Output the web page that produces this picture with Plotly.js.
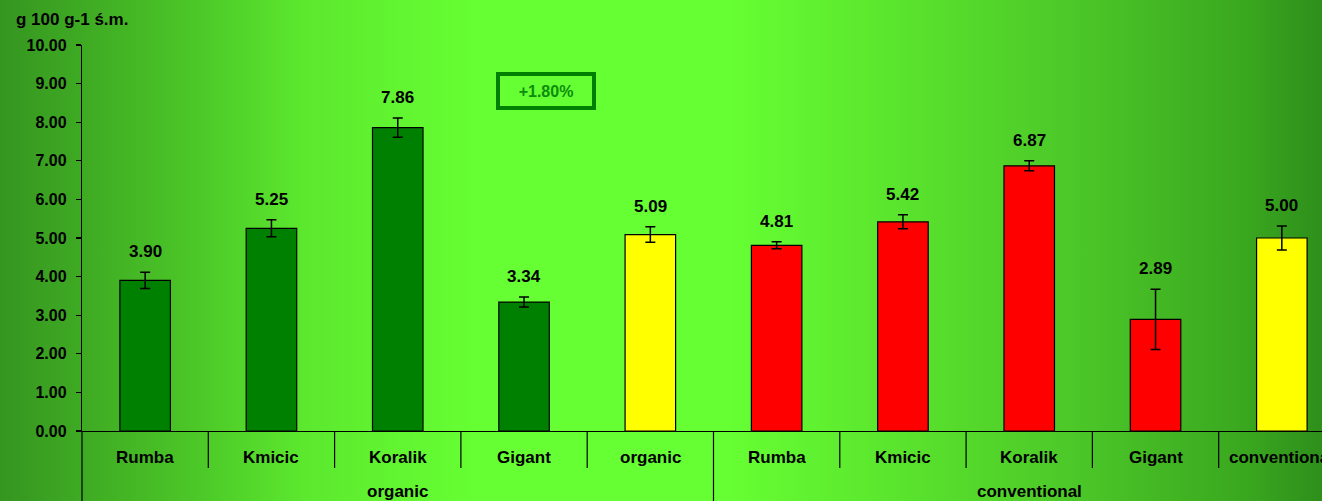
<!DOCTYPE html>
<html>
<head>
<meta charset="utf-8">
<script src="https://cdn.plot.ly/plotly-3.0.1.min.js"></script>
<style>
  html, body { margin: 0; padding: 0; }
  #chart {
    width: 1322px; height: 501px;
    background: linear-gradient(90deg, #359520 0%, #4cc828 15%, #5ce82e 23%, #66ff33 36%, #66ff33 55%, #5ae42d 68%, #4cc828 81%, #3aa81f 94%, #2e8f1b 100%);
  }
</style>
</head>
<body>
<div id="chart"></div>
<script>
// ---- data ----
var categories = ["Rumba", "Kmicic", "Koralik", "Gigant", "organic", "Rumba", "Kmicic", "Koralik", "Gigant", "conventional"];
var groups = ["organic", "conventional"];
var groupOfBar = ["organic","organic","organic","organic","organic","conventional","conventional","conventional","conventional","conventional"];
var values = [3.90, 5.25, 7.86, 3.34, 5.09, 4.81, 5.42, 6.87, 2.89, 5.00];
var errors = [0.21, 0.22, 0.25, 0.13, 0.20, 0.09, 0.18, 0.13, 0.78, 0.31];
var isMean = [false, false, false, false, true, false, false, false, false, true];
var yTitle = "g 100 g-1 ś.m.";
var diffLabel = "+1.80%";

// ---- styles ----
var FONT = "Liberation Sans, Arial, sans-serif";
var colorFor = function (i) {
  if (isMean[i]) return "#ffff00";
  return groupOfBar[i] === "organic" ? "#008000" : "#ff0000";
};
var xIdx = categories.map(function (c, i) { return i; });
var xMin = -0.5, xMax = 9.318;
var plotH = 501 - 45 - 70;
var toPaperX = function (v) { return (v - xMin) / (xMax - xMin); };
var boldFont = function (s) { return { family: FONT, size: s, color: "#000000", weight: "bold" }; };

var trace = {
  type: "bar",
  x: xIdx,
  y: values,
  width: 0.4,
  marker: { color: xIdx.map(colorFor), line: { color: "#000000", width: 1.2 } },
  error_y: { type: "data", array: errors, visible: true, color: "#000000", thickness: 1.5, width: 5 },
  hoverinfo: "skip"
};

var annotations = [];
// value labels
values.forEach(function (v, i) {
  annotations.push({
    x: i, y: v + errors[i], xref: "x", yref: "y",
    text: v.toFixed(2), showarrow: false, yanchor: "bottom", yshift: 9,
    font: boldFont(17)
  });
});
// category labels
categories.forEach(function (c, i) {
  annotations.push({
    x: i, y: -26 / plotH, xref: "x", yref: "paper",
    text: c, showarrow: false, yanchor: "middle",
    font: boldFont(17)
  });
});
// group labels
groups.forEach(function (g) {
  var idx = [];
  groupOfBar.forEach(function (gg, i) { if (gg === g) idx.push(i); });
  var center = (idx[0] + idx[idx.length - 1]) / 2;
  annotations.push({
    x: center, y: -60 / plotH, xref: "x", yref: "paper",
    text: g, showarrow: false, yanchor: "middle",
    font: boldFont(17)
  });
});
// y title
annotations.push({
  x: -68 / 1240, y: 1 + 25 / plotH, xref: "paper", yref: "paper",
  xanchor: "left", yanchor: "middle", text: yTitle, showarrow: false,
  font: boldFont(17)
});
// difference box
annotations.push({
  x: 3.17, y: 8.81, xref: "x", yref: "y", text: diffLabel, showarrow: false,
  width: 92, height: 30, borderwidth: 4, bordercolor: "#008000", borderpad: 0,
  font: { family: FONT, size: 16, color: "#0c8c0c", weight: "bold" }
});

var shapes = [];
// category dividers below axis
for (var i = 1; i < categories.length; i++) {
  var isGroupBreak = groupOfBar[i] !== groupOfBar[i - 1];
  shapes.push({
    type: "line", xref: "paper", yref: "paper",
    x0: toPaperX(i - 0.5), x1: toPaperX(i - 0.5),
    y0: 0, y1: isGroupBreak ? -72 / plotH : -37 / plotH,
    line: { color: "#000000", width: 1.2 }
  });
}
// y-axis extension below
shapes.push({
  type: "line", xref: "paper", yref: "paper", x0: 0, x1: 0,
  y0: 0, y1: -72 / plotH, line: { color: "#000000", width: 1.2 }
});

var layout = {
  width: 1322, height: 501,
  margin: { l: 82, r: 0, t: 45, b: 70, pad: 0 },
  paper_bgcolor: "rgba(0,0,0,0)",
  plot_bgcolor: "rgba(0,0,0,0)",
  showlegend: false,
  font: { family: FONT, color: "#000000" },
  xaxis: {
    range: [xMin, xMax], tickvals: xIdx, showticklabels: false,
    ticks: "", showgrid: false, zeroline: false,
    showline: true, linecolor: "#000000", linewidth: 1.2,
    fixedrange: true
  },
  yaxis: {
    range: [0, 10], dtick: 1, tick0: 0, tickformat: ".2f",
    ticks: "outside", ticklen: 5, tickwidth: 1.2, tickcolor: "#000000",
    showgrid: false, zeroline: false,
    showline: true, linecolor: "#000000", linewidth: 1.2,
    tickfont: boldFont(16),
    ticklabelstandoff: 6, fixedrange: true
  },
  annotations: annotations,
  shapes: shapes
};

Plotly.newPlot("chart", [trace], layout, { displayModeBar: false, staticPlot: true });
</script>
</body>
</html>
